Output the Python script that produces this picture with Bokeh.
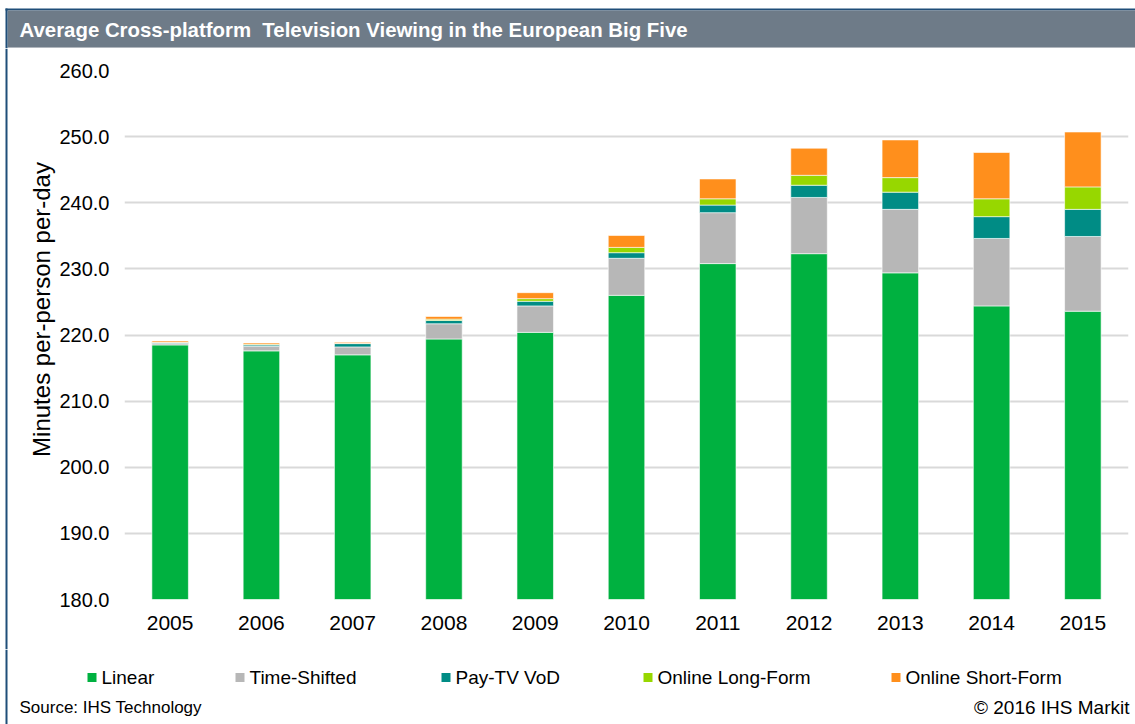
import math
from bokeh.plotting import figure
from bokeh.layouts import column, row
from bokeh.models import (FactorRange, Range1d, FixedTicker, NumeralTickFormatter,
                          Label, BoxAnnotation, ColumnDataSource)
from bokeh.embed import file_html
from bokeh.resources import INLINE

years = ["2005", "2006", "2007", "2008", "2009", "2010", "2011", "2012", "2013", "2014", "2015"]
linear = [218.5, 217.6, 217.0, 219.4, 220.4, 226.0, 230.8, 232.3, 229.4, 224.4, 223.6]
time_shifted = [0.2, 0.7, 1.2, 2.3, 4.0, 5.6, 7.7, 8.5, 9.6, 10.2, 11.3]
paytv_vod = [0.15, 0.2, 0.5, 0.5, 0.7, 0.85, 1.15, 1.85, 2.6, 3.3, 4.1]
online_long = [0.05, 0.1, 0.05, 0.2, 0.4, 0.8, 0.95, 1.5, 2.2, 2.7, 3.4]
online_short = [0.2, 0.2, 0.15, 0.4, 0.9, 1.8, 3.0, 4.1, 5.7, 7.0, 8.3]

series_names = ["Linear", "Time-Shifted", "Pay-TV VoD", "Online Long-Form", "Online Short-Form"]
series_keys = ["linear", "time_shifted", "paytv_vod", "online_long", "online_short"]
colors = ["#00b140", "#b7b7b7", "#008c85", "#97d700", "#ff8f1c"]
y_ticks = [180, 190, 200, 210, 220, 230, 240, 250, 260]

title_text = "Average Cross-platform\u00a0 Television Viewing in the European Big Five"
y_label_text = "Minutes per-person per-day"
source_text = "Source: IHS Technology"
copyright_text = "\u00a9 2016 IHS Markit"

FONT = "Liberation Sans"
NAVY = "#1f4e79"
W, H = 1135, 724
HEADER_H = 48
LEFT_W = 56
MID_H = 601
FOOT_H = H - HEADER_H - MID_H          # 75
LEGEND_SWATCH_X = [87, 235, 441, 643, 891]   # legend layout (page px)


def blank_fig(w, h):
    f = figure(width=w, height=h, x_range=Range1d(0, w), y_range=Range1d(h, 0),
               output_backend="svg", toolbar_location=None,
               x_axis_location=None, y_axis_location=None,
               min_border=0, min_border_left=0, min_border_right=0,
               min_border_top=0, min_border_bottom=0, frame_align=False)
    f.grid.visible = False
    f.outline_line_color = None
    f.background_fill_color = "white"
    f.border_fill_color = "white"
    return f


def navy_left(f, top, bottom):
    f.add_layout(BoxAnnotation(left=5, right=7, top=top, bottom=bottom,
                               fill_color=NAVY, fill_alpha=1, line_color=None))


# ---- header bar
header = blank_fig(W, HEADER_H)
header.add_layout(BoxAnnotation(left=5, right=W, top=8, bottom=10,
                                fill_color=NAVY, fill_alpha=1, line_color=None))
header.add_layout(BoxAnnotation(left=7, right=W, top=10, bottom=47,
                                fill_color="#6e7b88", fill_alpha=1, line_color=None))
header.add_layout(BoxAnnotation(left=7, right=W, top=47, bottom=48,
                                fill_color="#a9b0b8", fill_alpha=1, line_color=None))
navy_left(header, 8, HEADER_H)
header.add_layout(Label(x=19, y=29, text=title_text, text_font=FONT,
                        text_font_size="20.4px", text_font_style="bold",
                        text_color="white", text_baseline="middle"))

# ---- left panel with the vertical axis title
left = blank_fig(LEFT_W, MID_H)
navy_left(left, 0, MID_H)
left.add_layout(Label(x=41, y=309 - HEADER_H, text=y_label_text, angle=math.pi / 2,
                      text_font=FONT, text_font_size="24px", text_color="#000000",
                      text_align="center", text_baseline="middle"))

# ---- main chart
source = ColumnDataSource(dict(year=years, linear=linear, time_shifted=time_shifted,
                               paytv_vod=paytv_vod, online_long=online_long,
                               online_short=online_short))

p = figure(x_range=FactorRange(*years), y_range=Range1d(180, 260),
           width=W - LEFT_W, height=MID_H, output_backend="svg",
           toolbar_location=None, min_border_left=68, min_border_right=7,
           min_border_top=22, min_border_bottom=50, frame_align=False)
p.outline_line_color = None
p.background_fill_color = "white"
p.border_fill_color = "white"

renderers = p.vbar_stack(series_keys, x="year", width=0.4, color=colors, source=source,
                         line_color="white", line_alpha=0.6, line_width=1)

p.yaxis.ticker = FixedTicker(ticks=y_ticks)
p.yaxis.formatter = NumeralTickFormatter(format="0.0")
for ax in (p.xaxis[0], p.yaxis[0]):
    ax.axis_line_color = None
    ax.major_tick_line_color = None
    ax.minor_tick_line_color = None
    ax.major_label_text_font = FONT
    ax.major_label_text_color = "#000000"
p.xaxis.major_label_text_font_size = "21px"
p.yaxis.major_label_text_font_size = "20px"
p.xaxis.major_label_standoff = 10
p.yaxis.major_label_standoff = 9
p.xgrid.grid_line_color = None
p.ygrid.grid_line_color = "#d9d9d9"
p.ygrid.grid_line_width = 2

# ---- footer: legend row + source line
footer = blank_fig(W, FOOT_H)
navy_left(footer, 0, FOOT_H)
legend_y = 677 - (HEADER_H + MID_H)
for name, col, sx in zip(series_names, colors, LEGEND_SWATCH_X):
    footer.add_layout(BoxAnnotation(left=sx, right=sx + 9, top=legend_y - 4.5,
                                    bottom=legend_y + 4.5, fill_color=col, fill_alpha=1,
                                    line_color=None))
    footer.add_layout(Label(x=sx + 14, y=legend_y, text=name, text_font=FONT,
                            text_font_size="19px", text_color="#000000",
                            text_baseline="middle"))
source_y = 707 - (HEADER_H + MID_H)
footer.add_layout(Label(x=19, y=source_y, text=source_text, text_font=FONT,
                        text_font_size="17px", text_color="#000000",
                        text_baseline="middle"))
footer.add_layout(Label(x=1129, y=source_y, text=copyright_text, text_font=FONT,
                        text_font_size="19px", text_color="#000000",
                        text_baseline="middle", text_align="right"))

layout = column(header, row(left, p, spacing=0), footer, spacing=0)
open("out.html", "w").write(file_html(layout, INLINE))
